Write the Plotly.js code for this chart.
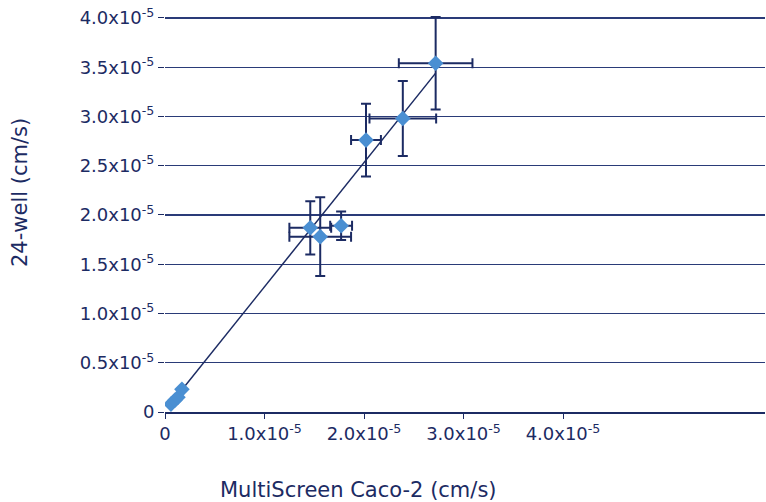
<!DOCTYPE html>
<html>
<head>
<meta charset="utf-8">
<script src="https://cdn.plot.ly/plotly-3.0.1.min.js"></script>
<style>html,body{margin:0;padding:0;background:#fff;}#chart{width:766px;height:502px;}</style>
</head>
<body>
<div id="chart"></div>
<script>
// MultiScreen Caco-2 permeability (x) vs 24-well permeability (y), cm/s
const caco2 = [0.06e-5, 0.10e-5, 0.13e-5, 0.17e-5, 1.46e-5, 1.56e-5, 1.77e-5, 2.02e-5, 2.39e-5, 2.72e-5];
const well24 = [0.08e-5, 0.12e-5, 0.15e-5, 0.23e-5, 1.87e-5, 1.78e-5, 1.89e-5, 2.76e-5, 2.98e-5, 3.54e-5];
const caco2Err = [0, 0, 0, 0, 0.21e-5, 0.31e-5, 0.11e-5, 0.15e-5, 0.335e-5, 0.37e-5];
const well24Err = [0, 0, 0, 0, 0.27e-5, 0.40e-5, 0.145e-5, 0.37e-5, 0.38e-5, 0.47e-5];
const trendX = [0.06e-5, 2.72e-5];
const trendY = [0.086e-5, 3.44e-5];
const yTickVals = [0, 0.5e-5, 1.0e-5, 1.5e-5, 2.0e-5, 2.5e-5, 3.0e-5, 3.5e-5, 4.0e-5];
const yTickText = ["0", "0.5x10<sup>-5</sup>", "1.0x10<sup>-5</sup>", "1.5x10<sup>-5</sup>", "2.0x10<sup>-5</sup>", "2.5x10<sup>-5</sup>", "3.0x10<sup>-5</sup>", "3.5x10<sup>-5</sup>", "4.0x10<sup>-5</sup>"];
const xTickVals = [0, 1.0e-5, 2.0e-5, 3.0e-5, 4.0e-5];
const xTickText = ["0", "1.0x10<sup>-5</sup>", "2.0x10<sup>-5</sup>", "3.0x10<sup>-5</sup>", "4.0x10<sup>-5</sup>"];

const navy = '#1c2b63';
const fontFam = '"DejaVu Sans", sans-serif';

const traces = [
  {
    x: trendX, y: trendY, mode: 'lines', type: 'scatter',
    line: {color: navy, width: 1.5}, hoverinfo: 'skip', showlegend: false
  },
  {
    x: caco2, y: well24, mode: 'markers', type: 'scatter',
    marker: {symbol: 'diamond', size: 12, color: '#4a8fd2'},
    error_y: {type: 'data', array: well24Err, visible: true, color: navy, thickness: 2, width: 5},
    error_x: {type: 'data', array: caco2Err, visible: true, color: navy, thickness: 2, width: 5},
    showlegend: false
  }
];

const plotTop = 16, plotBottom = 412, yMax = 4.02e-5;

const layout = {
  width: 766, height: 502,
  margin: {l: 165, r: 1, t: plotTop, b: 502 - plotBottom},
  paper_bgcolor: '#fff', plot_bgcolor: '#fff',
  font: {family: fontFam, color: navy, size: 18},
  xaxis: {
    range: [0, 6.03e-5], tickvals: xTickVals, ticktext: xTickText,
    showgrid: false, zeroline: false, showline: true, linecolor: navy, linewidth: 1.5,
    ticks: 'outside', ticklen: 5, tickcolor: navy, tickwidth: 1,
    tickfont: {family: fontFam, color: navy, size: 18}
  },
  yaxis: {
    range: [0, yMax], tickvals: yTickVals, ticktext: yTickText,
    showgrid: true, gridcolor: '#2a3b78', gridwidth: 1.2,
    zeroline: false, showline: false,
    ticks: 'outside', ticklen: 6, tickcolor: navy, tickwidth: 1,
    tickfont: {family: fontFam, color: navy, size: 18}
  },
  annotations: [
    {text: 'MultiScreen Caco-2 (cm/s)', xref: 'paper', yref: 'paper',
     x: (358 - 165) / 600, y: -(490 - plotBottom) / (plotBottom - plotTop), yanchor: 'middle', xanchor: 'center', showarrow: false,
     font: {family: fontFam, color: navy, size: 21}},
    {text: '24-well (cm/s)', xref: 'paper', yref: 'paper', textangle: -90,
     x: (20 - 165) / 600, y: (412 - 193) / (plotBottom - plotTop), xanchor: 'center', yanchor: 'middle', showarrow: false,
     font: {family: fontFam, color: navy, size: 21}}
  ]
};

Plotly.newPlot('chart', traces, layout, {staticPlot: true, displayModeBar: false});
</script>
</body>
</html>
